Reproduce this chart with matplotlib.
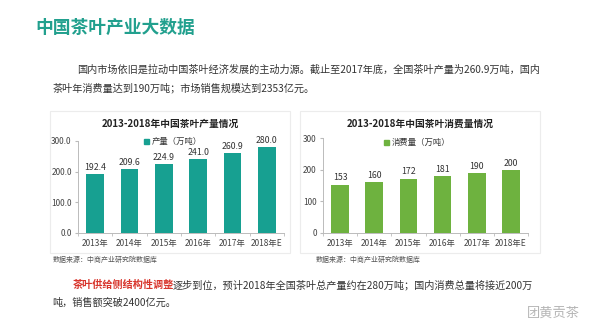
import matplotlib.pyplot as plt
from matplotlib.patches import Rectangle, Patch

plt.rcParams['font.family'] = ['Noto Sans CJK SC', 'DejaVu Sans']

years = ['2013年', '2014年', '2015年', '2016年', '2017年', '2018年E']
output = [192.4, 209.6, 224.9, 241.0, 260.9, 280.0]
consume = [153, 160, 172, 181, 190, 200]
output_labels = ['192.4', '209.6', '224.9', '241.0', '260.9', '280.0']
consume_labels = ['153', '160', '172', '181', '190', '200']

W, H = 600, 331
TEAL = '#17a091'
GREEN = '#6eb23f'


def px(x, y):
    return x / W, 1 - y / H


def add_box(fig, x0, y0, x1, y1):
    fig.patches.append(Rectangle(px(x0, y1), (x1 - x0) / W, (y1 - y0) / H,
                                 transform=fig.transFigure, fill=False,
                                 edgecolor='#ececec', lw=0.8))


def bar_panel(fig, rect, vals, labels, color, yticks, ytick_fmt, title, leg, leg_pos, title_x):
    x0, y0, x1, y1 = rect
    ax = fig.add_axes([x0 / W, 1 - y1 / H, (x1 - x0) / W, (y1 - y0) / H])
    pos = range(len(years))
    bars = ax.bar(pos, vals, width=0.52, color=color, zorder=2)
    ax.bar_label(bars, labels=labels, padding=1.5, fontsize=6.3, color='#333333')
    ax.set_xlim(-0.5, len(years) - 0.5)
    ax.set_ylim(0, yticks[-1])
    ax.set_yticks(yticks)
    ax.set_yticklabels([ytick_fmt.format(v) for v in yticks], fontsize=6, color='#444444')
    ax.set_xticks(list(pos))
    ax.set_xticklabels(years, fontsize=6, color='#444444')
    ax.set_xticks([i + 0.5 for i in range(-1, len(years))], minor=True)
    ax.tick_params(axis='x', which='major', length=0, pad=4)
    ax.tick_params(axis='x', which='minor', length=2.5, color='#bbbbbb', direction='out')
    ax.tick_params(axis='y', length=2.5, color='#bbbbbb', pad=2)
    for s in ['top', 'right']:
        ax.spines[s].set_visible(False)
    for s in ['left', 'bottom']:
        ax.spines[s].set_color('#bbbbbb')
        ax.spines[s].set_linewidth(0.7)
    ax.patch.set_alpha(0)
    ax.legend(handles=[Patch(color=color, label=leg)], loc='center',
              bbox_to_anchor=leg_pos, frameon=False, fontsize=6,
              handlelength=0.6, handleheight=0.6, handletextpad=0.3,
              labelcolor='#333333')
    tx, ty = px(title_x, 124)
    fig.text(tx, ty, title, fontsize=7, fontweight='bold', color='#222222',
             ha='center', va='center')
    return ax


fig = plt.figure(figsize=(6, 3.31), dpi=100)
fig.patch.set_facecolor('white')

# headline and intro
x, y = px(35, 28)
fig.text(x, y, '中国茶叶产业大数据', fontsize=12.8, fontweight='bold', color='#22a08e', va='center')
x, y = px(77, 70)
fig.text(x, y, '国内市场依旧是拉动中国茶叶经济发展的主动力源。截止至2017年底，全国茶叶产量为260.9万吨，国内',
         fontsize=7.3, color='#333333', va='center')
x, y = px(53, 88)
fig.text(x, y, '茶叶年消费量达到190万吨；市场销售规模达到2353亿元。',
         fontsize=7.3, color='#333333', va='center')

# chart panels
add_box(fig, 50, 111, 290, 253)
add_box(fig, 300, 111, 540, 253)
bar_panel(fig, (78, 141, 284, 233), output, output_labels, TEAL,
          [0, 100, 200, 300], '{:.1f}', '2013-2018年中国茶叶产量情况',
          '产量（万吨）', (0.46, 0.99), 170)
bar_panel(fig, (323, 138, 528, 233), consume, consume_labels, GREEN,
          [0, 100, 200, 300], '{:d}', '2013-2018年中国茶叶消费量情况',
          '消费量（万吨）', (0.46, 0.95), 420)

for sx in (53, 316):
    x, y = px(sx, 260)
    fig.text(x, y, '数据来源：中商产业研究院数据库', fontsize=5, color='#555555', va='center')

# closing paragraph, red lead-in followed by black text
x, y = px(73, 285)
red = fig.text(x, y, '茶叶供给侧结构性调整', fontsize=7.3, fontweight='bold', color='#d8352c', va='center')
fig.canvas.draw()
bb = red.get_window_extent(renderer=fig.canvas.get_renderer())
fig.text((bb.x1 - 2) / fig.bbox.width, y,
         '逐步到位，预计2018年全国茶叶总产量约在280万吨；国内消费总量将接近200万',
         fontsize=7.3, color='#333333', va='center')
x, y = px(52, 303)
fig.text(x, y, '吨，销售额突破2400亿元。', fontsize=7.3, color='#333333', va='center')

# watermark
x, y = px(527, 313)
fig.text(x, y, '团黄贡茶', fontsize=9.5, color='#b5b5b5', va='center')

fig.savefig('out.png', dpi=100)
